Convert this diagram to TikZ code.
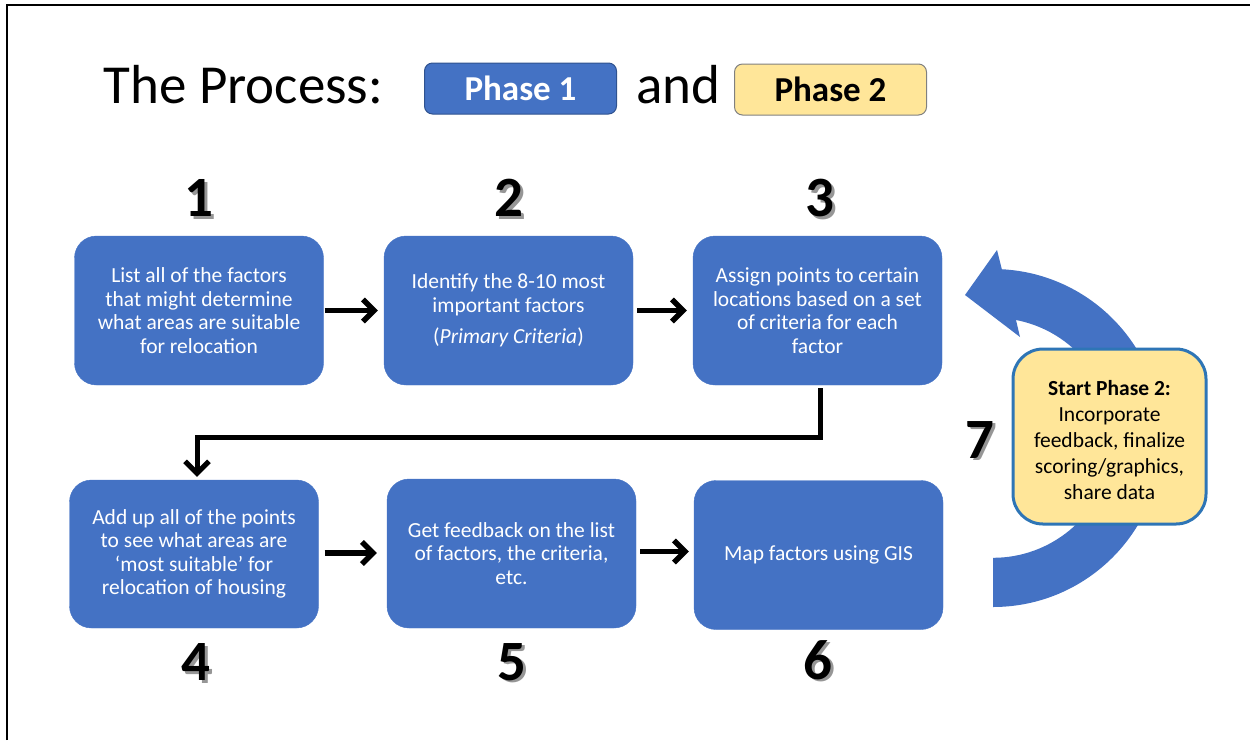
\documentclass[tikz,border=0pt]{standalone}
\usepackage{fontspec}
\setmainfont{Carlito}
\usetikzlibrary{arrows.meta,calc}
\definecolor{boxblue}{RGB}{68,114,196}
\definecolor{darkblue}{RGB}{47,82,143}
\definecolor{lightyellow}{RGB}{255,230,153}
\definecolor{edgeblue}{RGB}{46,117,182}
\definecolor{shadowgray}{RGB}{150,150,150}
\begin{document}
\begin{tikzpicture}[x=1pt,y=-1pt,
  stepbox/.style={fill=boxblue, draw=boxblue, rounded corners=22pt, minimum width=249pt, minimum height=149pt, inner sep=0pt, text=white, align=center, font=\fontsize{21.5}{23.5}\selectfont},
  phasebox/.style={rounded corners=8pt, minimum width=192pt, minimum height=51pt, inner sep=0pt, line width=1pt, font=\fontsize{35}{40}\selectfont\bfseries},
  titletext/.style={anchor=base west, font=\fontsize{55}{60}\selectfont},
  numtext/.style={font=\fontsize{57}{60}\selectfont\bfseries, inner sep=0pt},
  numshadow/.style={numtext, text=shadowgray},
  flowarrow/.style={line width=5.5pt, -{Straight Barb[length=11pt,width=22pt]}},
  elbow/.style={line width=5pt, -{Straight Barb[length=12pt,width=24pt]}}
]
\useasboundingbox (0,0) rectangle (1250,740);
% frame
\draw[line width=2pt] (7,740) -- (7,5) -- (1250,5);

% title
\node[titletext] (title) at (100,103) {The Process:};
\node[phasebox, fill=boxblue, draw=darkblue, text=white] (p1) at (520.5,88.5) {Phase 1};
\node[titletext] (andtxt) at (633,103) {and};
\node[phasebox, fill=lightyellow, draw=gray] (p2) at (830.5,89.5) {Phase 2};

% curved arrow
\fill[boxblue] (993,607) arc[start angle=90, end angle=-87, radius=169]
  -- (997,250) -- (965,295) -- (1020,337) -- (1016,320)
  arc[start angle=-79, end angle=90, radius=120] -- cycle;

% boxes
\node[stepbox] (b1) at (199,310.5) {List all of the factors\\that might determine\\what areas are suitable\\for relocation};
\node[stepbox] (b2) at (508.5,310.5) {Identify the 8-10 most\\important factors\\[8pt](\textit{Primary Criteria})};
\node[stepbox] (b3) at (817.5,310.5) {Assign points to certain\\locations based on a set\\of criteria for each\\factor};
\node[stepbox, minimum height=148pt] (b4) at (194,554) {Add up all of the points\\to see what areas are\\‘most suitable’ for\\relocation of housing};
\node[stepbox] (b5) at (511.5,553.5) {Get feedback on the list\\of factors, the criteria,\\etc.};
\node[stepbox] (b6) at (818.5,555) {Map factors using GIS};

\node[fill=lightyellow, draw=edgeblue, line width=3pt, rounded corners=30pt, minimum width=193pt, minimum height=175pt, inner sep=0pt] (b7) at (1109.5,436.5) {};
\node[align=center, font=\fontsize{21.5}{26.2}\selectfont, inner sep=0pt] (b7t) at (1109.5,440) {\textbf{Start Phase 2:}\\Incorporate\\feedback, finalize\\scoring/graphics,\\share data};

% numbers
\node[numshadow] (n1s) at (201.5,200.5) {1};
\node[numtext] (n1) at (199,198) {1};
\node[numshadow] (n2s) at (511.5,200.5) {2};
\node[numtext] (n2) at (509,198) {2};
\node[numshadow] (n3s) at (822.5,200.5) {3};
\node[numtext] (n3) at (820,198) {3};
\node[numshadow] (n4s) at (198.5,664.5) {4};
\node[numtext] (n4) at (196,662) {4};
\node[numshadow] (n5s) at (514.5,664.5) {5};
\node[numtext] (n5) at (512,662) {5};
\node[numshadow] (n6s) at (820.5,662.5) {6};
\node[numtext] (n6) at (818,660) {6};
\node[numshadow] (n7s) at (982.5,442.5) {7};
\node[numtext] (n7) at (980,440) {7};

% arrows
\draw[flowarrow, shorten <=1pt, shorten >=6pt] (b1.east) -- (b2.west);
\draw[flowarrow, shorten <=4pt, shorten >=6pt] (b2.east) -- (b3.west);
\draw[flowarrow, shorten <=6pt, shorten >=10pt] ([yshift=1pt]b4.east) -- ([yshift=1pt]b4.east -| b5.west);
\draw[flowarrow, shorten <=4pt, shorten >=5pt] ([yshift=2pt]b5.east) -- ([yshift=2pt]b5.east -| b6.west);
\coordinate (bend) at (820,437);
\draw[elbow, shorten <=3pt, shorten >=3pt] ([xshift=2.5pt]b3.south) -- ([xshift=2.5pt]b3.south |- bend) -| ([xshift=3pt]b4.north);
\end{tikzpicture}
\end{document}
